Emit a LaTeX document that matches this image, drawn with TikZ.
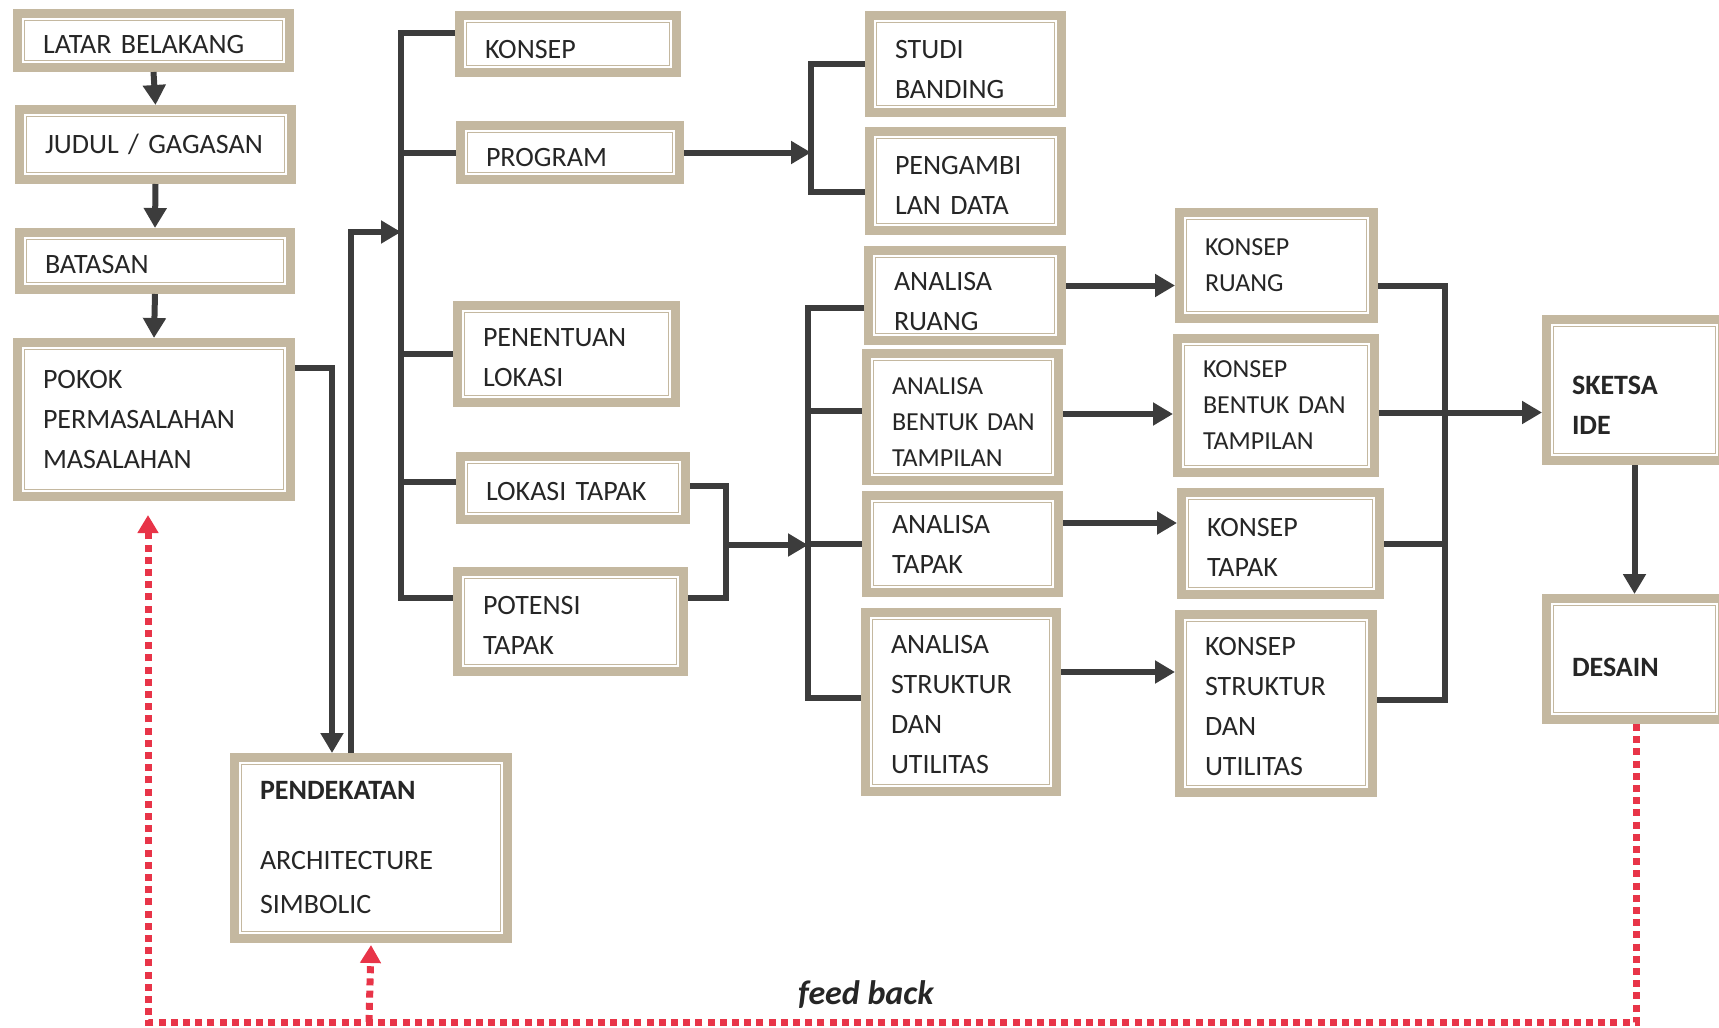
\documentclass[tikz,border=0pt]{standalone}
\usepackage{fontspec}
\setmainfont{Carlito}
\usetikzlibrary{arrows.meta,positioning}
\definecolor{boxtan}{RGB}{196,184,160}
\definecolor{linegray}{RGB}{60,60,60}
\definecolor{fbred}{RGB}{232,52,72}

\begin{document}
\begin{tikzpicture}[x=0.5pt,y=-0.5pt,
  every node/.style={font=\fontsize{14pt}{20pt}\selectfont,text=black!85},
  blok/.style={draw=boxtan,line width=4.5pt,fill=white,align=left,inner xsep=12.75pt,inner ysep=0pt,
    path picture={\draw[boxtan,line width=0.6pt]
      ([shift={(3.6pt,-3.6pt)}]path picture bounding box.north west) rectangle
      ([shift={(-3.6pt,3.6pt)}]path picture bounding box.south east);}},
  kecil/.style={font=\fontsize{13pt}{18pt}\selectfont},
  conn/.style={draw=linegray,line width=3pt},
  arr/.style={conn,-{Triangle[length=10pt,width=11pt]}},
  fb/.style={draw=fbred,line width=3.5pt,dash pattern=on 3.5pt off 2.6pt},
  fbarr/.style={fb,-{Triangle[length=9pt,width=10pt]}}]
\useasboundingbox (0,0) rectangle (1719,1028);
% left column
\node[blok,minimum width=136pt,minimum height=27pt,text width=110.5pt] (lat) at (153.5,40.5) {\rule{0pt}{13pt}LATAR BELAKANG};
\node[blok,minimum width=136pt,minimum height=35pt,text width=110.5pt] (jud) at (155.5,144.5) {JUDUL / GAGASAN};
\node[blok,minimum width=135.5pt,minimum height=28.5pt,text width=110pt] (bat) at (155,261) {\rule{0pt}{13pt}BATASAN};
\node[blok,minimum width=136.5pt,minimum height=77pt,text width=111pt] (pok) at (154,419.5) {POKOK\\PERMASALAHAN\\MASALAHAN};
\node[blok,minimum width=136.5pt,minimum height=90.5pt,text width=111pt,font=\fontsize{14pt}{22pt}\selectfont] (pen) at (371,848)
  {\textbf{PENDEKATAN}\\[13pt]ARCHITECTURE\\SIMBOLIC};
% second column
\node[blok,minimum width=108.5pt,minimum height=28.5pt,text width=83pt] (kon) at (568,44) {\rule{0pt}{15pt}KONSEP};
\node[blok,minimum width=109.5pt,minimum height=27pt,text width=84pt] (prg) at (570,152.5) {\rule{0pt}{14pt}PROGRAM};
\node[blok,minimum width=109pt,minimum height=48.5pt,text width=83.5pt] (plk) at (566.5,354) {\rule{0pt}{13pt}PENENTUAN\\LOKASI};
\node[blok,minimum width=112.5pt,minimum height=31.5pt,text width=87pt] (ltp) at (573,488) {\rule{0pt}{13pt}LOKASI TAPAK};
\node[blok,minimum width=113pt,minimum height=50pt,text width=87.5pt] (ptp) at (570.5,621.5) {\rule{0pt}{13pt}POTENSI\\TAPAK};
% analisa column
\node[blok,minimum width=96pt,minimum height=48.5pt,text width=70.5pt] (stb) at (965.5,64) {\rule{0pt}{15pt}STUDI\\BANDING};
\node[blok,minimum width=96pt,minimum height=49.5pt,text width=70.5pt] (pgd) at (965.5,181) {\rule{0pt}{13pt}PENGAMBI\\LAN DATA};
\node[blok,minimum width=96.5pt,minimum height=45pt,text width=71pt] (aru) at (965,295.5) {\rule{0pt}{15pt}ANALISA\\RUANG};
\node[blok,kecil,minimum width=96pt,minimum height=63.5pt,text width=70.5pt] (abt) at (962.5,417) {\rule{0pt}{13pt}ANALISA\\BENTUK~DAN\\TAMPILAN};
\node[blok,minimum width=96pt,minimum height=48.5pt,text width=70.5pt] (atp) at (962.5,544) {ANALISA\\TAPAK};
\node[blok,minimum width=95.5pt,minimum height=89.5pt,text width=70pt] (asu) at (961,702) {\rule{0pt}{12pt}ANALISA\\STRUKTUR\\DAN\\UTILITAS};
% konsep column
\node[blok,kecil,minimum width=97pt,minimum height=53pt,text width=71.5pt] (kru) at (1276.5,265.5) {KONSEP\\RUANG};
\node[blok,kecil,minimum width=98.5pt,minimum height=67pt,text width=73pt] (kbt) at (1276,405.5) {KONSEP\\BENTUK~DAN\\TAMPILAN};
\node[blok,minimum width=99pt,minimum height=51pt,text width=73.5pt] (ktp) at (1280.5,543.5) {\rule{0pt}{13pt}KONSEP\\TAPAK};
\node[blok,minimum width=96.5pt,minimum height=89pt,text width=71pt] (ksu) at (1276,703.5) {\rule{0pt}{12pt}KONSEP\\STRUKTUR\\DAN\\UTILITAS};
% right column
\node[blok,minimum width=88pt,minimum height=70.5pt,text width=62.5pt] (skt) at (1634.5,390) {\rule{0pt}{24pt}\textbf{SKETSA}\\\textbf{IDE}};
\node[blok,minimum width=88pt,minimum height=60.5pt,text width=62.5pt] (des) at (1634.5,659) {\rule{0pt}{18pt}\textbf{DESAIN}};
% bus positions
\coordinate (b1) at (401,0);
\coordinate (b1in) at (401,232);
\coordinate (b2) at (811,0);
\coordinate (bk) at (726,0);
\coordinate (bkm) at (726,545);
\coordinate (b3) at (808,0);
\coordinate (b4) at (1445,0);
\coordinate (fbl) at (148,1022);
% connectors
\draw[arr] (lat.south) -- (jud.north);
\draw[arr] (jud.south) -- (bat.north);
\draw[arr] (bat.south) -- (pok.north);
\draw[arr] ([yshift=25.75pt]pok.east) -| ([xshift=-19.5pt]pen.north);
\draw[arr] ([xshift=-10pt]pen.north) |- (b1in);
\draw[conn] ([yshift=5.5pt]kon.west) -- ([yshift=5.5pt]kon.west -| b1) -- ([yshift=12pt]ptp.west -| b1) -- ([yshift=12pt]ptp.west);
\draw[conn] (prg.west) -- (prg.west -| b1);
\draw[conn] (plk.west) -- (plk.west -| b1);
\draw[conn] ([yshift=3pt]ltp.west) -- ([yshift=3pt]ltp.west -| b1);
\draw[arr] (prg.east) -- (prg.east -| b2);
\draw[conn] (stb.west) -- (stb.west -| b2) -- ([yshift=-5.5pt]pgd.west -| b2) -- ([yshift=-5.5pt]pgd.west);
\draw[conn] ([yshift=1pt]ltp.east) -- ([yshift=1pt]ltp.east -| bk) -- ([yshift=12pt]ptp.east -| bk) -- ([yshift=12pt]ptp.east);
\draw[arr] (bkm) -- (bkm -| b3);
\draw[conn] ([yshift=-6pt]aru.west) -- ([yshift=-6pt]aru.west -| b3) -- ([yshift=2pt]asu.west -| b3) -- ([yshift=2pt]asu.west);
\draw[conn] ([yshift=3pt]abt.west) -- ([yshift=3pt]abt.west -| b3);
\draw[conn] (atp.west) -- (atp.west -| b3);
\draw[arr] ([yshift=5pt]aru.east) -- ([yshift=5pt]aru.east -| kru.west);
\draw[arr] ([yshift=1.5pt]abt.east) -- ([yshift=1.5pt]abt.east -| kbt.west);
\draw[arr] ([yshift=10.5pt]atp.east) -- ([yshift=10.5pt]atp.east -| ktp.west);
\draw[arr] ([yshift=15pt]asu.east) -- ([yshift=15pt]asu.east -| ksu.west);
\draw[conn] ([yshift=-10pt]kru.east) -- ([yshift=-10pt]kru.east -| b4) -- ([yshift=2pt]ksu.east -| b4) -- ([yshift=2pt]ksu.east);
\draw[conn] ([yshift=-3.5pt]kbt.east) -- ([yshift=-3.5pt]kbt.east -| b4);
\draw[conn] (ktp.east) -- (ktp.east -| b4);
\draw[arr] ([yshift=-3.5pt]kbt.east -| b4) -- ([yshift=-3.5pt]kbt.east -| skt.west);
\draw[arr] (skt.south) -- (des.north);
% feed back
\draw[fbarr] ([xshift=1pt]des.south) |- ([xshift=-3pt]pok.south |- fbl) -- ([xshift=-3pt,yshift=-7pt]pok.south);
\draw[fbarr] ([xshift=-1pt]pen.south |- fbl) -- ([yshift=-1pt]pen.south);
\node[font=\fontsize{17pt}{20pt}\selectfont\bfseries\itshape] (fbt) at (866,995) {feed back};
\end{tikzpicture}
\end{document}
